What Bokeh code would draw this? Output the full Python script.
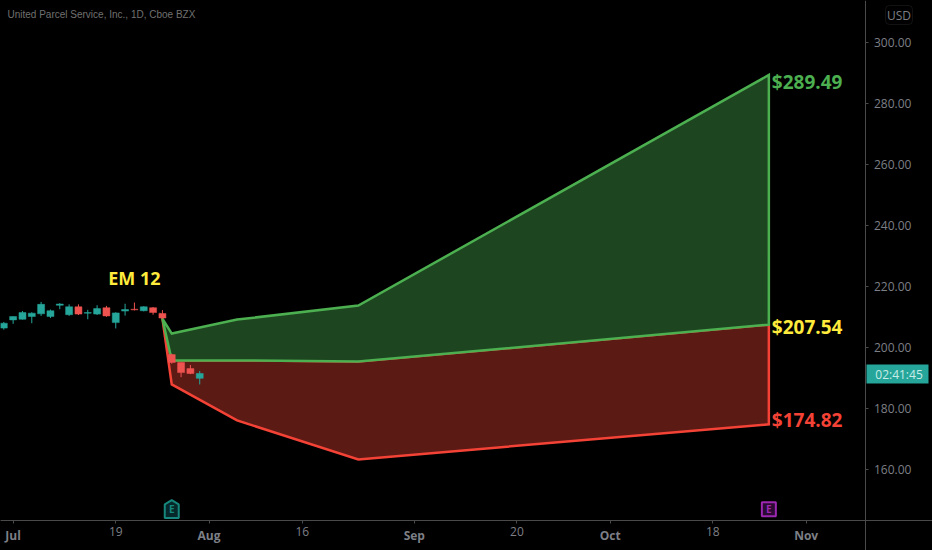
from bokeh.plotting import figure
from bokeh.models import (ColumnDataSource, FixedTicker, Label, BoxAnnotation, LinearAxis)
from bokeh.core.properties import value
from bokeh.embed import file_html
from bokeh.resources import INLINE

# Candles, one per trading day starting at index 0
idx = list(range(22))
opens  = [206.4,209.1,209.3,210.2,211.1,210.2,213.9,210.8,213.4,211.3,211.0,213.1,208.2,212.0,212.6,212.1,213.1,211.2,197.7,195.1,193.1,189.9]
highs  = [208.4,210.2,212.0,211.6,215.0,212.5,214.6,214.2,214.2,212.4,213.9,213.7,211.6,214.4,214.8,213.6,213.3,212.3,198.0,195.1,194.3,192.3]
lows   = [205.9,207.8,209.2,208.0,210.4,209.7,212.6,210.4,210.7,209.3,210.7,210.1,206.3,210.5,212.2,211.9,210.8,209.4,194.7,190.3,191.3,187.9]
closes = [208.0,210.2,211.5,211.3,214.2,212.1,214.3,213.4,211.0,211.5,212.8,210.4,211.4,212.5,212.4,213.4,211.5,209.7,195.1,191.8,191.5,191.5]

# Expected-move drawing
em_x     = [17, 18, 25, 38, 82]
em_upper = [209.5, 204.6, 209.2, 213.8, 289.49]
em_mid   = [209.5, 195.8, 195.8, 195.4, 207.54]
em_lower = [209.5, 187.9, 176.1, 163.3, 174.82]

price_ticks = [160, 180, 200, 220, 240, 260, 280, 300]
day_ticks   = [12, 32, 55, 76]
day_labels  = ["19", "16", "20", "18"]
month_ticks  = [1, 22, 44, 65, 86]
month_labels = ["Jul", "Aug", "Sep", "Oct", "Nov"]

end_labels = ["$289.49", "$207.54", "$174.82"]
BG = "#000000"
GREEN, YELLOW, RED = "#4CAF50", "#FFEB3B", "#F44336"
TEAL_C, RED_C = "#26A69A", "#EF5350"
AX, TXT = "#4a4a4a", "#7d7f86"
FONT = "Open Sans"
AXIS_X, AXIS_Y = 92.41, 143.24   # where the two axis lines cross

p = figure(width=932, height=550, output_backend="svg", toolbar_location=None,
           x_range=(-0.354, 99.54), y_range=(133.39, 313.95),
           background_fill_color=BG, border_fill_color=BG,
           min_border_left=0, min_border_right=0, min_border_top=0, min_border_bottom=0,
           y_axis_location="right")
p.styles = {"background-color": BG}
p.outline_line_color = None
p.grid.visible = False

def style(ax, ticks):
    ax.ticker = FixedTicker(ticks=ticks)
    ax.minor_tick_line_color = None
    ax.major_tick_in = 0
    ax.major_tick_out = 3
    ax.axis_line_color = AX
    ax.major_tick_line_color = AX
    ax.major_label_text_color = TXT
    ax.major_label_text_font = FONT
    ax.major_label_text_font_size = "12px"

style(p.yaxis[0], price_ticks)
p.yaxis[0].major_label_overrides = {t: f"{t:.2f}" for t in price_ticks}
p.yaxis[0].major_label_standoff = 5
p.yaxis[0].fixed_location = AXIS_X

style(p.xaxis[0], day_ticks)
p.xaxis[0].major_label_overrides = dict(zip(day_ticks, day_labels))
p.xaxis[0].major_label_standoff = 4
p.xaxis[0].fixed_location = AXIS_Y

months = LinearAxis()
style(months, month_ticks)
months.major_label_overrides = dict(zip(month_ticks, month_labels))
months.major_label_standoff = 4
months.major_label_text_font_style = "bold"
months.fixed_location = AXIS_Y
p.add_layout(months, "below")

# filled expected-move bands
p.patch(em_x + em_x[::-1], em_lower + em_mid[::-1], fill_color="#5C1A15", line_color=RED, line_width=2.5, line_join="miter")
p.patch(em_x + em_x[::-1], em_upper + em_mid[::-1], fill_color="#1D4620", line_color=GREEN, line_width=2.5, line_join="miter")

colors = [TEAL_C if c >= o else RED_C for o, c in zip(opens, closes)]
src = ColumnDataSource(dict(x=idx, o=opens, h=highs, l=lows, c=closes, col=colors))
p.segment("x", "h", "x", "l", source=src, line_color="col", line_width=1)
p.vbar(x="x", top="o", bottom="c", width=0.75, source=src, fill_color="col", line_color="col", line_width=0.5)

for txt, yv, col, off in zip(end_labels, [em_upper[-1], em_mid[-1], em_lower[-1]], [GREEN, YELLOW, RED], [7, 2, -4]):
    p.text([em_x[-1]], [yv], text=[txt], x_offset=3, y_offset=off, text_color=col, text_baseline="middle",
           text_font=value(FONT), text_font_style="bold", text_font_size="19px")

p.text([14.0], [222.7], text=["EM 12"], text_align="center", text_baseline="middle", text_color=YELLOW,
       text_font=value(FONT), text_font_style="bold", text_font_size="18px")

# earnings markers
p.patch([18 - 0.75, 18 - 0.75, 18, 18 + 0.75, 18 + 0.75], [144.1, 148.5, 149.9, 148.5, 144.1],
        fill_color="#07282A", line_color="#16877C", line_width=2)
p.scatter([82], [146.9], marker="square", size=14, fill_color="#2B0A33", line_color="#9C27B0", line_width=2)
for x, col in ((18, "#16877C"), (82, "#9C27B0")):
    p.text([x], [146.9], text=["E"], text_align="center", text_baseline="middle", text_color=col,
           text_font=value(FONT), text_font_style="bold", text_font_size="10px")

p.add_layout(Label(x=7, y=536, x_units="screen", y_units="screen", text="United Parcel Service, Inc., 1D, Cboe BZX",
                   text_color="#707070", text_font="Liberation Sans", text_font_size="10px", text_baseline="middle"))
p.add_layout(BoxAnnotation(left=885, right=912, top=5, bottom=24, left_units="canvas", right_units="canvas",
                           top_units="canvas", bottom_units="canvas", fill_alpha=0, line_color="#3c3c3c",
                           line_width=1, border_radius=4))
p.add_layout(Label(x=898.5, y=535.5, x_units="screen", y_units="screen", text="USD", text_color=TXT, text_font=FONT,
                   text_font_size="12px", text_align="center", text_baseline="middle"))
p.add_layout(BoxAnnotation(left=866, right=928, top=364, bottom=383, left_units="canvas", right_units="canvas",
                           top_units="canvas", bottom_units="canvas", fill_color=TEAL_C, fill_alpha=1, line_color=None))
p.add_layout(Label(x=898.5, y=176.5, x_units="screen", y_units="screen", text="02:41:45", text_color="#C8ECE8",
                   text_font=FONT, text_font_size="12px", text_align="center", text_baseline="middle"))

open("out.html", "w").write(file_html(p, INLINE))
